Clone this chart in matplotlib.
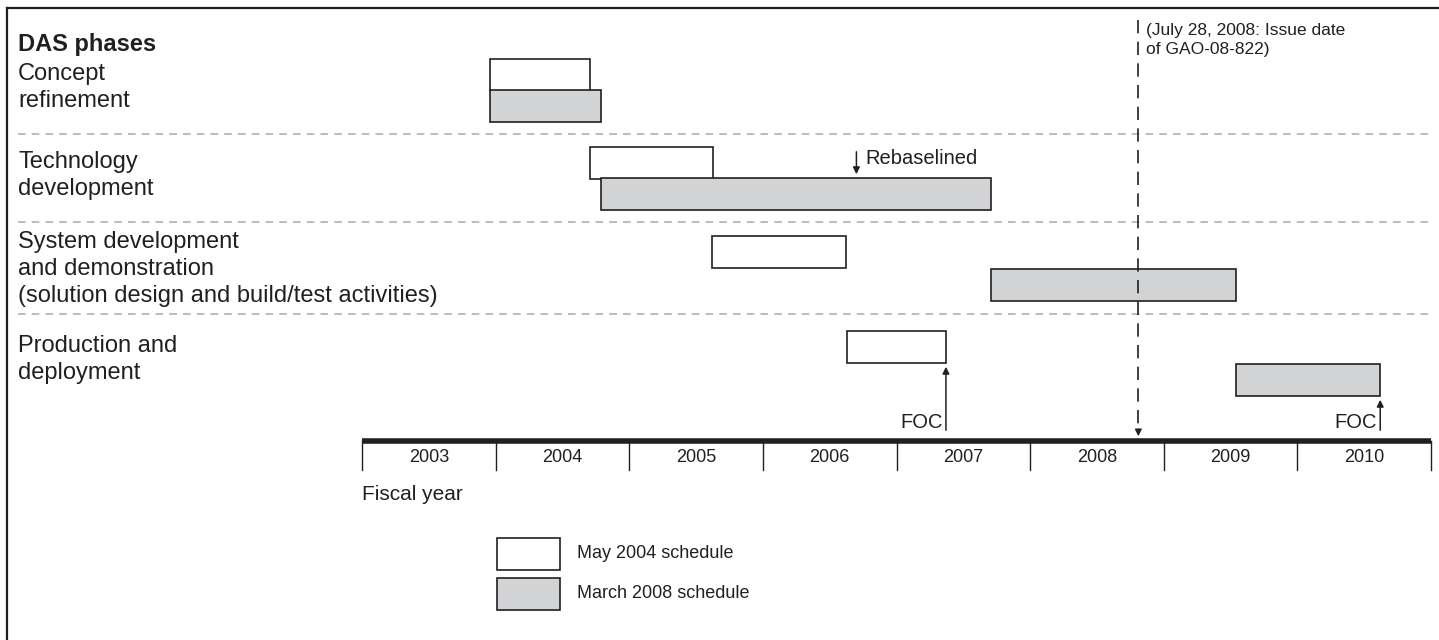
import matplotlib
matplotlib.use("Agg")
import matplotlib.pyplot as plt
from matplotlib.patches import Rectangle

plt.rcParams['font.family'] = ['Liberation Sans', 'DejaVu Sans']

# данные (финансовые годы, доли года)
phases = ["Concept\nrefinement", "Technology\ndevelopment",
          "System development\nand demonstration\n(solution design and build/test activities)",
          "Production and\ndeployment"]
may2004_start = [2003.96, 2004.71, 2005.62, 2006.63]
may2004_end = [2004.71, 2005.63, 2006.62, 2007.37]
mar2008_start = [2003.96, 2004.79, 2007.71, 2009.54]
mar2008_end = [2004.79, 2007.71, 2009.54, 2010.62]
years = [2003, 2004, 2005, 2006, 2007, 2008, 2009, 2010]
issue_date = 2008.81
rebaselined = 2006.70
foc_may2004 = 2007.37
foc_mar2008 = 2010.62

INK = "#231f20"
GRAY = "#d1d3d4"
W, H = 1439, 640
x0_px, x1_px = 362, 1431
scale = (x1_px - x0_px) / len(years)

fig = plt.figure(figsize=(W / 100, H / 100), dpi=100)
# ось с годами по x и пикселями по y
ax = fig.add_axes([0, 0, 1, 1])
ax.set_xlim(years[0] - x0_px / scale, years[0] + (W - x0_px) / scale)
ax.set_ylim(H, 0)
ax.axis("off")


def px(x):
    return years[0] + (x - x0_px) / scale


# рамка слева и сверху
ax.plot([px(7), px(7)], [H, 8], color=INK, lw=1.6)
ax.plot([px(7), ax.get_xlim()[1]], [8, 8], color=INK, lw=1.6)

ax.text(px(18), 45, "DAS phases", fontsize=17, fontweight="bold", color=INK, va="center")

white_top = [59, 147, 236, 331]
gray_top = [90, 178, 269, 364]
label_y = [63, 151, 231, 335]
bar_h = 32
for i, name in enumerate(phases):
    ax.text(px(18), label_y[i], name, fontsize=17, color=INK, va="top", linespacing=1.3)
    ax.barh(white_top[i] + bar_h / 2, may2004_end[i] - may2004_start[i], left=may2004_start[i],
            height=bar_h, color="white", edgecolor=INK, lw=1.2, zorder=3)
    ax.barh(gray_top[i] + bar_h / 2, mar2008_end[i] - mar2008_start[i], left=mar2008_start[i],
            height=bar_h, color=GRAY, edgecolor=INK, lw=1.2, zorder=3)

# разделители строк
for y in [134, 222, 314]:
    ax.plot([px(18), px(1431)], [y, y], color="#a7a9ac", lw=1.1, dashes=(5, 4), zorder=1)

# шкала лет
ax.plot([years[0], years[-1] + 1], [441, 441], color=INK, lw=4, solid_capstyle="butt", zorder=4)
for i, yr in enumerate(years):
    ax.plot([yr, yr], [441, 470], color=INK, lw=1, zorder=4)
    ax.text(yr + 0.5, 457, str(yr), fontsize=13, color=INK, ha="center", va="center")
ax.plot([years[-1] + 1] * 2, [441, 470], color=INK, lw=1, zorder=4)
ax.text(years[0], 495, "Fiscal year", fontsize=15, color=INK, va="center")

# дата выпуска отчета
ax.plot([issue_date, issue_date], [20, 432], color=INK, lw=1.2, dashes=(8, 5), zorder=5)
ax.annotate("", xy=(issue_date, 439), xytext=(issue_date, 428),
            arrowprops=dict(arrowstyle="-|>", color=INK, lw=1, mutation_scale=10), zorder=5)
ax.text(issue_date + 0.06, 23, "(July 28, 2008: Issue date\nof GAO-08-822)", fontsize=12.5,
        color=INK, va="top", linespacing=1.3)

# Rebaselined
ax.annotate("", xy=(rebaselined, 177), xytext=(rebaselined, 149),
            arrowprops=dict(arrowstyle="-|>", color=INK, lw=1.1, mutation_scale=10))
ax.text(rebaselined + 0.07, 158, "Rebaselined", fontsize=14.5, color=INK, va="center")

# FOC
for foc, top in [(foc_may2004, 364), (foc_mar2008, 397)]:
    ax.annotate("", xy=(foc, top), xytext=(foc, 433),
                arrowprops=dict(arrowstyle="-|>", color=INK, lw=1.1, mutation_scale=10))
    ax.text(foc - 0.025, 422, "FOC", fontsize=14.5, color=INK, ha="right", va="center")

# легенда
for (y, fc, lab) in [(538, "white", "May 2004 schedule"), (578, GRAY, "March 2008 schedule")]:
    ax.add_patch(Rectangle((px(497), y), (560 - 497) / scale, 32, facecolor=fc, edgecolor=INK, lw=1.2))
    ax.text(px(577), y + 16, lab, fontsize=13, color=INK, va="center")

fig.savefig("out.png", dpi=100)
